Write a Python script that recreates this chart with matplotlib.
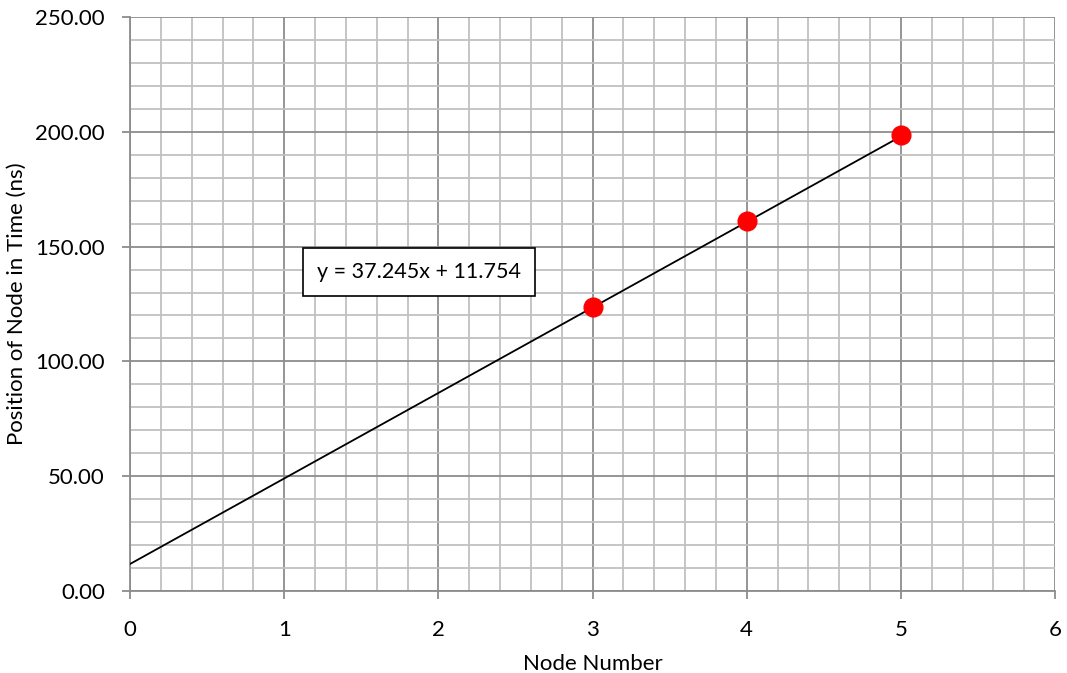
import matplotlib.pyplot as plt
import numpy as np
from matplotlib.ticker import MultipleLocator

plt.rcParams['font.family'] = ['Lato', 'DejaVu Sans']

node_number = [3, 4, 5]
node_time = [123.9, 161.0, 198.4]

slope = 37.245
intercept = 11.754
fit_label = f'y = {slope}x + {intercept}'

fig = plt.figure(figsize=(10.67, 6.73), dpi=100)
ax = fig.add_axes([130 / 1067, 1 - 591 / 673, 925 / 1067, 574 / 673])

# trend line from 0 to the last node
x_fit = np.array([0, max(node_number)])
ax.plot(x_fit, slope * x_fit + intercept, color='black', lw=1.3, zorder=3)
ax.plot(node_number, node_time, 'o', color='#ff0000', ms=13.5, zorder=4)

ax.set_xlim(0, 6)
ax.set_ylim(0, 250)
ax.xaxis.set_major_locator(MultipleLocator(1))
ax.xaxis.set_minor_locator(MultipleLocator(0.2))
ax.yaxis.set_major_locator(MultipleLocator(50))
ax.yaxis.set_minor_locator(MultipleLocator(10))
ax.set_yticks(ax.get_yticks())
ax.set_yticklabels([f'{v:.2f}' for v in ax.get_yticks()])
ax.set_ylim(0, 250)

ax.grid(which='major', color='#8c8c8c', lw=1.3, zorder=0)
ax.grid(which='minor', color='#c0c0c0', lw=1.3, zorder=0)
ax.set_axisbelow(True)

for side in ['top', 'right']:
    ax.spines[side].set_visible(False)
for side in ['left', 'bottom']:
    ax.spines[side].set_color('#8c8c8c')
    ax.spines[side].set_linewidth(1.3)

ax.tick_params(which='major', direction='out', length=6, width=1.3,
               color='#8c8c8c', labelsize=16)
ax.tick_params(which='minor', length=0)
ax.tick_params(axis='x', pad=15)
ax.tick_params(axis='y', pad=12)

ax.set_xlabel('Node Number', fontsize=16, labelpad=10)
ax.set_ylabel('Position of Node in Time (ns)', fontsize=16, labelpad=6)

ax.text(1.215, 138.8, fit_label, fontsize=15.5, va='center', ha='left', zorder=5,
        bbox=dict(facecolor='white', edgecolor='black', lw=1.2,
                  boxstyle='square,pad=0.65'))

plt.savefig('out.png', dpi=100)
